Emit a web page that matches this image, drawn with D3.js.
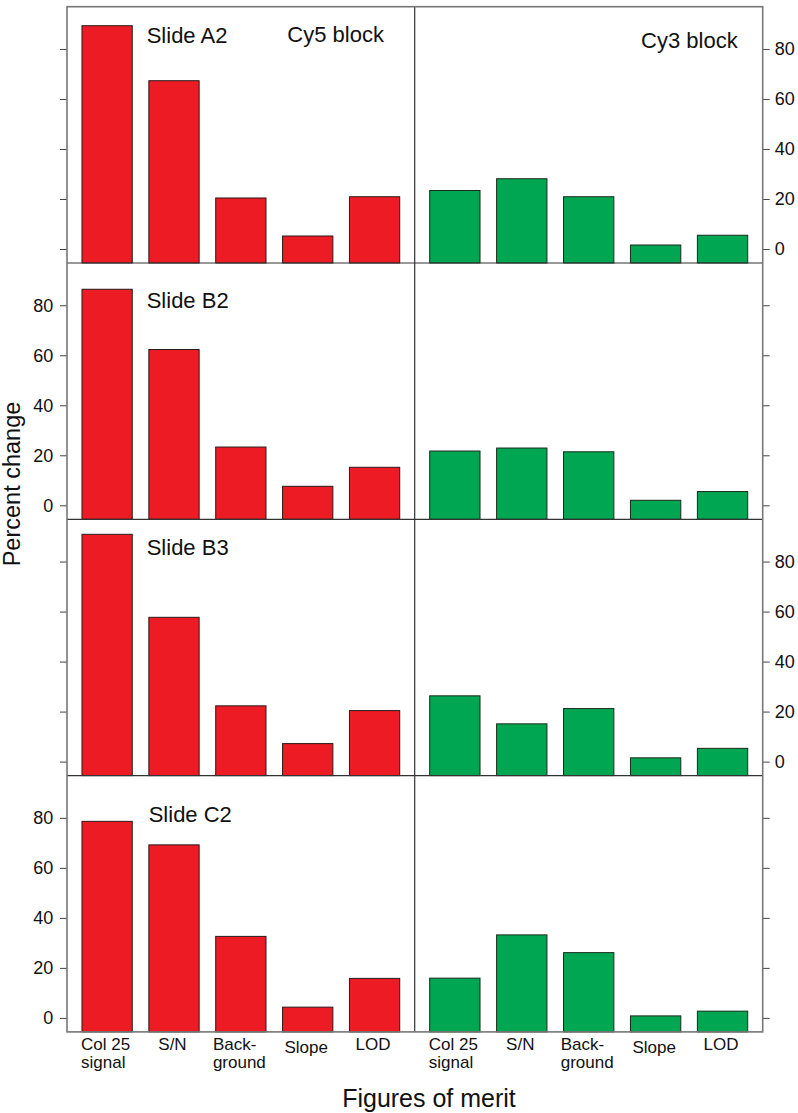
<!DOCTYPE html>
<html>
<head>
<meta charset="utf-8">
<script src="https://cdn.jsdelivr.net/npm/d3@7/dist/d3.min.js"></script>
<style>
  body { margin: 0; background: #fff; }
  svg { display: block; font-family: "Liberation Sans", Arial, Helvetica, sans-serif; }
  .tick text { font-size: 18px; fill: #111; }
</style>
</head>
<body>
<script>
// data
var figures = ["Col 25\nsignal", "S/N", "Back-\nground", "Slope", "LOD"];
var slides = ["Slide A2", "Slide B2", "Slide B3", "Slide C2"];
var blocks = ["Cy5 block", "Cy3 block"];
var yTicks = [0, 20, 40, 60, 80];

var cy5 = [
  [89.3, 67.3, 20.4, 5.2, 20.9],
  [86.4, 62.3, 23.3, 7.6, 15.2],
  [90.9, 57.7, 22.3, 7.2, 20.4],
  [78.6, 69.2, 32.6, 4.3, 15.8]
];
var cy3 = [
  [23.4, 28.1, 20.9, 1.6, 5.5],
  [21.7, 22.9, 21.4, 2.0, 5.5],
  [26.3, 15.1, 21.2, 1.5, 5.3],
  [15.9, 33.2, 26.1, 0.8, 2.7]
];

// layout
var W = 798, H = 1113;
var left = 67, mid = 414.7, right = 762.7;
var top0 = 6.7, panelH = 256.3;
var slideDy = [36.6, 45.1, 35.8, 46.1];   // baseline of slide label below panel top

var svg = d3.select("body").append("svg")
    .attr("width", W)
    .attr("height", H);

var y = d3.scaleLinear().domain([-5.6, 96.9]).range([panelH, 0]);

var xL = d3.scaleBand().domain(d3.range(5)).range([left, mid])
    .paddingInner(0.248).paddingOuter(0.224);
var xR = d3.scaleBand().domain(d3.range(5)).range([mid, right])
    .paddingInner(0.248).paddingOuter(0.224);

slides.forEach(function(name, i) {
  var g = svg.append("g")
      .attr("transform", "translate(0," + (top0 + i * panelH) + ")");

  // bars (drawn up from the bottom of the panel)
  g.selectAll(".red")
      .data(cy5[i])
    .enter().append("rect")
      .attr("x", function(d, j) { return xL(j); })
      .attr("width", xL.bandwidth())
      .attr("y", function(d) { return y(d); })
      .attr("height", function(d) { return y.range()[0] - y(d); })
      .attr("fill", "#ED1C24")
      .attr("stroke", "#2a1a1a")
      .attr("stroke-width", 1);

  g.selectAll(".green")
      .data(cy3[i])
    .enter().append("rect")
      .attr("x", function(d, j) { return xR(j); })
      .attr("width", xR.bandwidth())
      .attr("y", function(d) { return y(d); })
      .attr("height", function(d) { return y.range()[0] - y(d); })
      .attr("fill", "#00A651")
      .attr("stroke", "#1a2a1a")
      .attr("stroke-width", 1);

  // left axis: labels on B2 and C2 only
  var axL = d3.axisLeft(y).tickValues(yTicks).tickSize(7).tickPadding(6.7)
      .tickFormat(i % 2 === 1 ? d3.format("d") : function() { return ""; });
  var gl = g.append("g").attr("transform", "translate(" + left + ",0)").call(axL);

  // right axis: labels on A2 and B3 only
  var axR = d3.axisRight(y).tickValues(yTicks).tickSize(7).tickPadding(5)
      .tickFormat(i % 2 === 0 ? d3.format("d") : function() { return ""; });
  var gr = g.append("g").attr("transform", "translate(" + right + ",0)").call(axR);

  [gl, gr].forEach(function(a) {
    a.select(".domain").remove();
    a.selectAll(".tick line").attr("stroke", "#444");
    a.attr("font-family", null).attr("font-size", null);
  });

  // panel separator
  if (i > 0) {
    g.append("line")
        .attr("x1", left).attr("x2", right)
        .attr("y1", 0).attr("y2", 0)
        .attr("stroke", "#333").attr("stroke-width", 1.2);
  }

  g.append("text")
      .attr("x", i === 3 ? 148.7 : 146.7)
      .attr("y", slideDy[i])
      .attr("font-size", 22)
      .attr("fill", "#111")
      .text(name);
});

// block titles
svg.append("text")
    .attr("x", 287.3).attr("y", 41.7)
    .attr("font-size", 22).attr("fill", "#111")
    .text(blocks[0]);
svg.append("text")
    .attr("x", 737.7).attr("y", 48.3)
    .attr("text-anchor", "end")
    .attr("font-size", 22).attr("fill", "#111")
    .text(blocks[1]);

// frame and middle divider
var bottom = top0 + 4 * panelH;
svg.append("line")
    .attr("x1", mid).attr("x2", mid)
    .attr("y1", top0).attr("y2", bottom)
    .attr("stroke", "#333").attr("stroke-width", 1.2);
svg.append("rect")
    .attr("x", left).attr("y", top0)
    .attr("width", right - left).attr("height", bottom - top0)
    .attr("fill", "none")
    .attr("stroke", "#777").attr("stroke-width", 1.6);

// category labels under both halves
[xL, xR].forEach(function(x) {
  figures.forEach(function(f, j) {
    var lines = f.split("\n");
    var t = svg.append("text")
        .attr("font-size", 17)
        .attr("fill", "#111");
    var dy = f === "Slope" ? 3 : 0;
    lines.forEach(function(s, k) {
      t.append("tspan")
          .attr("x", 0)
          .attr("y", 1050 + dy + k * 17.7)
          .text(s);
    });
    // left-aligned block, centred on the bar
    var w = t.node().getBBox().width;
    t.selectAll("tspan").attr("x", x(j) + x.bandwidth() / 2 - w / 2 - 1.5);
  });
});

// axis titles
svg.append("text")
    .attr("transform", "translate(19.5,484) rotate(-90)")
    .attr("text-anchor", "middle")
    .attr("font-size", 23.5)
    .attr("fill", "#111")
    .text("Percent change");

svg.append("text")
    .attr("x", 429).attr("y", 1106.7)
    .attr("text-anchor", "middle")
    .attr("font-size", 25)
    .attr("fill", "#111")
    .text("Figures of merit");
</script>
</body>
</html>
